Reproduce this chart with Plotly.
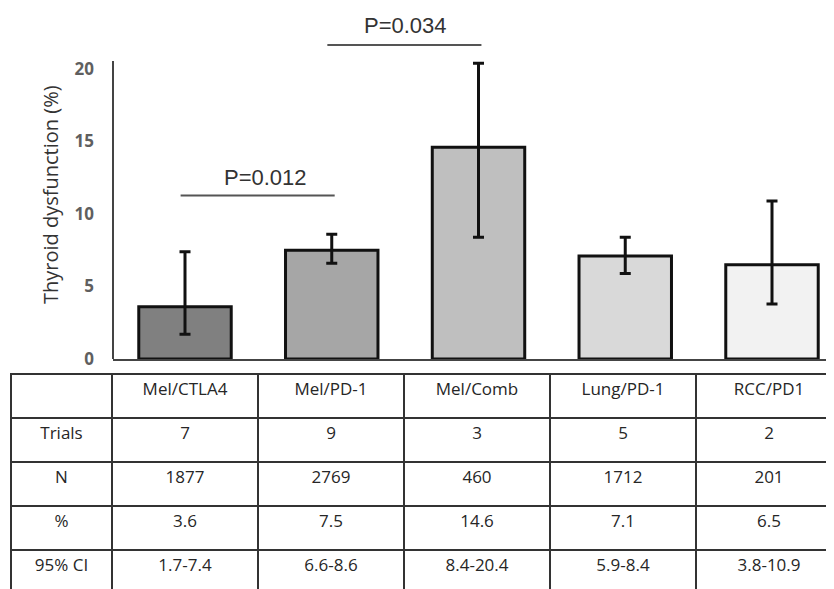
import plotly.graph_objects as go

categories = ["Mel/CTLA4", "Mel/PD-1", "Mel/Comb", "Lung/PD-1", "RCC/PD1"]
trials = [7, 9, 3, 5, 2]
n_patients = [1877, 2769, 460, 1712, 201]
pct = [3.6, 7.5, 14.6, 7.1, 6.5]
ci_low = [1.7, 6.6, 8.4, 5.9, 3.8]
ci_high = [7.4, 8.6, 20.4, 8.4, 10.9]
bar_colors = ["#808080", "#a6a6a6", "#bfbfbf", "#d9d9d9", "#f2f2f2"]
row_labels = ["Trials", "N", "%", "95% CI"]
y_ticks = [0, 5, 10, 15, 20]
# (from index, to index, bar level, label level, label x, label)
comparisons = [(0, 1, 11.28, 12.55, 0.55, "P=0.012"), (1, 2, 21.66, 23.0, 1.5, "P=0.034")]

W, H = 834, 589
OFF = 8  # page body margin offset

def px_x(p):
    return p - OFF

def px_y(p):
    return p - OFF

fig = go.Figure()

fig.add_trace(go.Bar(
    x=categories, y=pct, width=0.63,
    marker=dict(color=bar_colors, line=dict(color="#111111", width=3)),
    error_y=dict(type="data", symmetric=False,
                 array=[h - v for h, v in zip(ci_high, pct)],
                 arrayminus=[v - l for v, l in zip(pct, ci_low)],
                 color="#111111", thickness=3, width=5.5),
    showlegend=False, hoverinfo="skip",
))

ci_text = [f"{l}-{h}" for l, h in zip(ci_low, ci_high)]
cell_cols = [row_labels] + [[str(t), str(n), str(p), c] for t, n, p, c in zip(trials, n_patients, pct, ci_text)]
font_tab = dict(family="Open Sans", size=17, color="#262626")
tab_top = px_y(374)
fig.add_trace(go.Table(
    domain=dict(x=[px_x(11) / W, 1.0], y=[0, 1 - tab_top / H]),
    columnwidth=[101, 146, 146, 146, 146, 146],
    header=dict(values=[""] + categories, height=44, align="center",
                fill_color="white", line=dict(color="#333333", width=2), font=font_tab),
    cells=dict(values=cell_cols, height=44, align="center",
               fill_color="white", line=dict(color="#333333", width=2), font=font_tab),
))

scale = 14.5
y0_px = px_y(359)
x_left_px = px_x(113)
x_c0_px = px_x(185)
step = 146.75

fig.update_layout(
    width=W, height=H, margin=dict(l=0, r=0, t=0, b=0),
    paper_bgcolor="white", plot_bgcolor="white",
    xaxis=dict(domain=[x_left_px / W, 1],
               range=[(x_left_px - x_c0_px) / step, (W - x_c0_px) / step],
               showline=True, linecolor="#444444", linewidth=2, showticklabels=False,
               ticks="", showgrid=False, zeroline=False, fixedrange=True, automargin=False),
    yaxis=dict(domain=[1 - y0_px / H, 1], range=[0, y0_px / scale], tickvals=y_ticks,
               showline=False, showgrid=False, zeroline=False, ticks="",
               ticklabelstandoff=18, automargin=False,
               tickfont=dict(family="Open Sans", size=17, color="#5f5f5f", weight="bold"),
               fixedrange=True),
)

# y axis line up to just above 20
fig.add_shape(type="line", xref="x domain", yref="y", x0=0, x1=0, y0=0, y1=20.55,
              line=dict(color="#444444", width=2))

for a, b, yl, yt, xt, txt in comparisons:
    fig.add_shape(type="line", xref="x", yref="y", x0=a - 0.03, x1=b + 0.02, y0=yl, y1=yl,
                  line=dict(color="#555555", width=2))
    fig.add_annotation(x=xt, y=yt, xref="x", yref="y", text=txt,
                       xanchor="center", yanchor="middle",
                       showarrow=False, font=dict(family="Liberation Sans", size=22, color="#333333"))

fig.add_annotation(x=px_x(50) / W, y=1 - px_y(195) / H, xref="paper", yref="paper",
                   xanchor="center", yanchor="middle",
                   text="Thyroid dysfunction (%)", textangle=-90, showarrow=False,
                   font=dict(family="Open Sans", size=20, color="#333333"))

fig.write_html("out.html")
